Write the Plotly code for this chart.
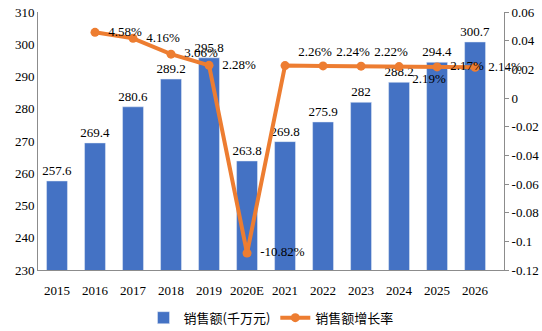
import plotly.graph_objects as go

years = ["2015", "2016", "2017", "2018", "2019", "2020E", "2021", "2022", "2023", "2024", "2025", "2026"]
sales = [257.6, 269.4, 280.6, 289.2, 295.8, 263.8, 269.8, 275.9, 282, 288.2, 294.4, 300.7]
growth_years = ["2016", "2017", "2018", "2019", "2020E", "2021", "2022", "2023", "2024", "2025", "2026"]
growth = [0.0458, 0.0416, 0.0306, 0.0228, -0.1082, 0.0226, 0.0224, 0.0222, 0.0219, 0.0217, 0.0214]
growth_labels = ["4.58%", "4.16%", "3.06%", "2.28%", "-10.82%", "2.26%", "2.24%", "2.22%", "2.19%", "2.17%", "2.14%"]
y2_ticks = [0.06, 0.04, 0.02, 0, -0.02, -0.04, -0.06, -0.08, -0.1, -0.12]
y2_ticktext = ["0.06", "0.04", "0.02", "0", "-0.02", "-0.04", "-0.06", "-0.08", "-0.1", "-0.12"]
y1_ticks = [230, 240, 250, 260, 270, 280, 290, 300, 310]

serif = "Times New Roman, Liberation Serif, serif"
cjk = "Noto Sans CJK SC"

growth_pos = ["middle right", "middle right", "middle right", "middle right", "middle right",
              "top right", "top right", "top right", "bottom right", "middle right", "middle right"]

fig = go.Figure()
fig.add_trace(go.Bar(
    x=years, y=sales, name="销售额(千万元)",
    marker_color="#4472C4",
    text=[f"{v:g}" for v in sales], textposition="outside",
    textfont=dict(family=serif, size=13, color="#000"),
    constraintext="none",
    cliponaxis=False,
))
fig.add_trace(go.Scatter(
    x=growth_years, y=growth, name="销售额增长率", yaxis="y2",
    mode="lines+markers+text",
    line=dict(color="#ED7D31", width=4),
    marker=dict(color="#ED7D31", size=9),
    text=growth_labels, textposition=growth_pos,
    texttemplate="\u00a0\u00a0%{text}",
    textfont=dict(family=serif, size=13, color="#000"),
    cliponaxis=False,
))

fig.update_layout(
    width=542, height=331,
    margin=dict(l=38, r=38, t=12, b=61, autoexpand=False),
    paper_bgcolor="white", plot_bgcolor="white",
    bargap=0.45,
    showlegend=True,
    legend=dict(orientation="h", x=0.5, xanchor="center", y=-0.185, yanchor="middle",
                font=dict(family=cjk, size=13, color="#000"), itemwidth=30),
    xaxis=dict(type="category", showline=True, linecolor="#8c8c8c", linewidth=1,
               tickfont=dict(family=serif, size=13, color="#000"), ticks="",
               ticklabelstandoff=8, showgrid=False, automargin=False),
    yaxis=dict(range=[230, 310], tickvals=y1_ticks, showline=True, linecolor="#8c8c8c",
               linewidth=1, showgrid=False, zeroline=False, ticks="", automargin=False,
               tickfont=dict(family=serif, size=13, color="#000")),
    yaxis2=dict(range=[-0.12, 0.06], overlaying="y", side="right", tickvals=y2_ticks,
                ticktext=y2_ticktext, showline=True, linecolor="#8c8c8c", linewidth=1,
                ticks="outside", ticklen=4, tickcolor="#8c8c8c", showgrid=False, zeroline=False,
                automargin=False,
                tickfont=dict(family=serif, size=13, color="#000")),
)

fig.write_html("out.html")
